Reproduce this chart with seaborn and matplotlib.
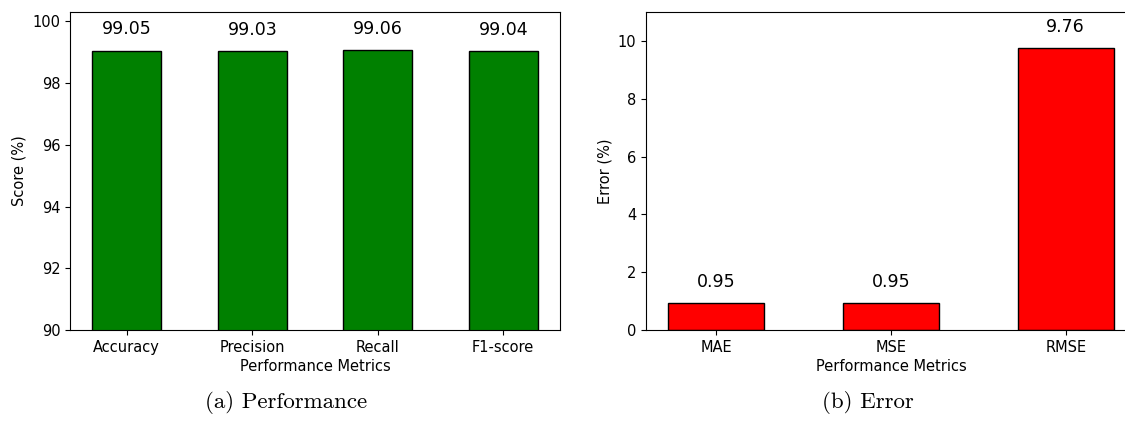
import matplotlib
matplotlib.use("Agg")
import matplotlib.pyplot as plt
import seaborn as sns
import pandas as pd

perf_metrics = ["Accuracy", "Precision", "Recall", "F1-score"]
perf_values = [99.05, 99.03, 99.06, 99.04]
err_metrics = ["MAE", "MSE", "RMSE"]
err_values = [0.95, 0.95, 9.76]

perf_df = pd.DataFrame({"metric": perf_metrics, "value": perf_values})
err_df = pd.DataFrame({"metric": err_metrics, "value": err_values})

plt.rcParams["font.family"] = ["DejaVu Sans"]
plt.rcParams["font.size"] = 10.5

W, H = 1125, 425
fig = plt.figure(figsize=(W / 100, H / 100), dpi=100)
ax1 = fig.add_axes([70 / W, 95 / H, 490 / W, 318 / H])
ax2 = fig.add_axes([646 / W, 95 / H, 490 / W, 318 / H])

bw = 0.55


def draw(ax, df, color, ylim, ylabel, yticks):
    sns.barplot(data=df, x="metric", y="value", color=color, saturation=1,
                width=bw, edgecolor="black", linewidth=1.0, errorbar=None, ax=ax)
    n = len(df)
    span = (n - 1) + bw
    ax.set_xlim(-bw / 2 - 0.05 * span, (n - 1) + bw / 2 + 0.05 * span)
    ax.set_ylim(*ylim)
    ax.set_yticks(yticks)
    ax.set_xlabel("Performance Metrics", fontsize=10.5, labelpad=3)
    ax.set_ylabel(ylabel, fontsize=10.5)
    ax.tick_params(labelsize=10.5)
    for i, v in enumerate(df["value"]):
        ax.text(i, v + 0.4, f"{v:.2f}", ha="center", va="bottom", fontsize=12.5)


draw(ax1, perf_df, "#008000", (90, 100.3), "Score (%)", [90, 92, 94, 96, 98, 100])
draw(ax2, err_df, "#ff0000", (0, 11), "Error (%)", [0, 2, 4, 6, 8, 10])

fig.text(286 / W, 1 - 403 / H, "(a) Performance", ha="center", va="center",
         fontsize=16.5, family=["cmr10"])
fig.text(868 / W, 1 - 403 / H, "(b) Error", ha="center", va="center",
         fontsize=16.5, family=["cmr10"])

fig.savefig("out.png", dpi=100)
